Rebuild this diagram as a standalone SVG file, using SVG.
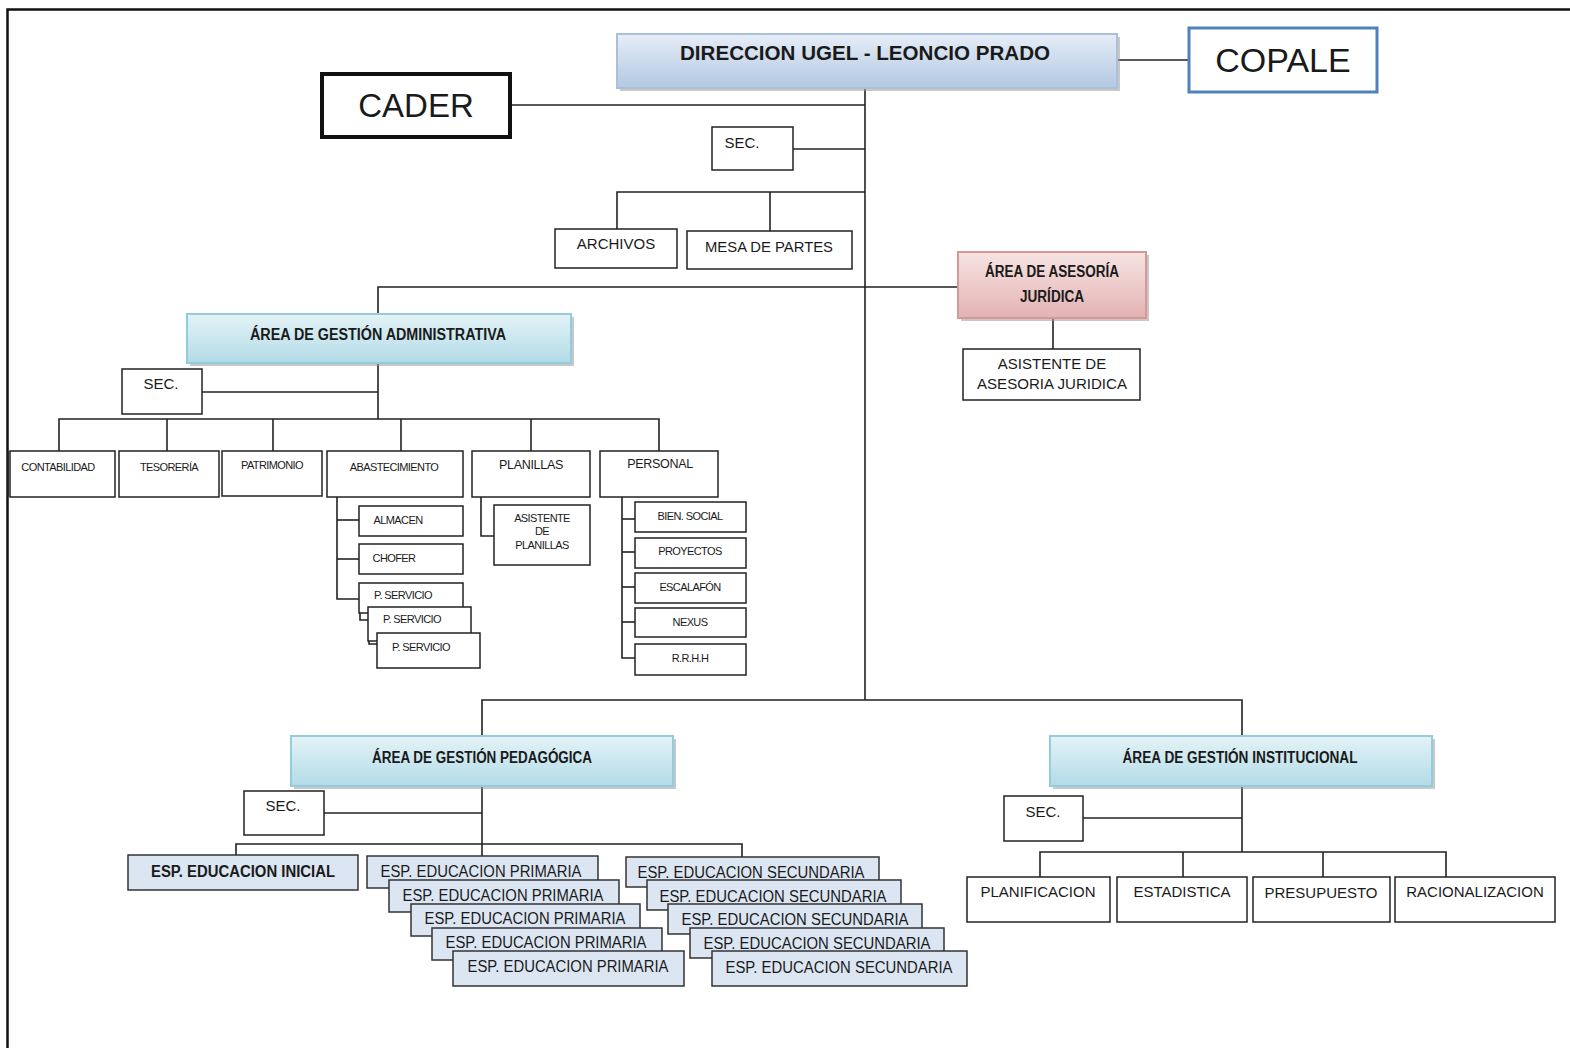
<svg xmlns="http://www.w3.org/2000/svg" width="1570" height="1048" viewBox="0 0 1570 1048">
<defs>
<linearGradient id="gBlue" x1="0" y1="0" x2="0" y2="1"><stop offset="0" stop-color="#e6edf7"/><stop offset="1" stop-color="#b3c8e2"/></linearGradient>
<linearGradient id="gCyan" x1="0" y1="0" x2="0" y2="1"><stop offset="0" stop-color="#e4f3f7"/><stop offset="1" stop-color="#b2dbe7"/></linearGradient>
<linearGradient id="gPink" x1="0" y1="0" x2="0" y2="1"><stop offset="0" stop-color="#f6e4e3"/><stop offset="1" stop-color="#e3b3b2"/></linearGradient>
<style>
.bx{fill:#fff;stroke:#222;stroke-width:1.5}
.esp{fill:#dce6f2;stroke:#333;stroke-width:1.5}
.sh{fill:#9a9a9a;opacity:0.55}
.t{font-family:"Liberation Sans",Arial,sans-serif;fill:#1a1a1a;text-anchor:middle}
.s15{font-size:15px}
.s11{font-size:11px;letter-spacing:-0.6px}
.s12{font-size:12.5px;letter-spacing:-0.3px}
.b{font-weight:bold}
.ln{stroke:#222;stroke-width:1.6;fill:none}
</style>
</defs>
<rect width="1570" height="1048" fill="#fff"/>
<path d="M7.5 1048 V9.5 H1570" fill="none" stroke="#111" stroke-width="2.5"/>

<g id="connectors" class="ln">
<line x1="865" y1="88" x2="865" y2="700"/>
<line x1="1117" y1="60" x2="1189" y2="60"/>
<line x1="510" y1="105" x2="865" y2="105"/>
<line x1="793" y1="149" x2="865" y2="149"/>
<polyline points="617,229 617,192 865,192"/>
<line x1="770" y1="192" x2="770" y2="231"/>
<polyline points="378,314 378,287 958,287"/>
<line x1="1053" y1="318" x2="1053" y2="349"/>
<line x1="378" y1="363" x2="378" y2="419"/>
<line x1="202" y1="392" x2="378" y2="392"/>
<polyline points="59,451 59,419 659,419 659,451"/>
<line x1="167" y1="419" x2="167" y2="451"/>
<line x1="273" y1="419" x2="273" y2="451"/>
<line x1="401" y1="419" x2="401" y2="451"/>
<line x1="531" y1="419" x2="531" y2="451"/>
<polyline points="337,497 337,599 359,599"/>
<line x1="337" y1="520" x2="359" y2="520"/>
<line x1="337" y1="559" x2="359" y2="559"/>
<polyline points="360,609 360,620 368,620"/>
<polyline points="369,641 369,644 377,644"/>
<polyline points="481,497 481,536 494,536"/>
<polyline points="622,497 622,658 635,658"/>
<line x1="622" y1="519" x2="635" y2="519"/>
<line x1="622" y1="552" x2="635" y2="552"/>
<line x1="622" y1="587" x2="635" y2="587"/>
<line x1="622" y1="622" x2="635" y2="622"/>
<polyline points="482,736 482,700 1242,700 1242,736"/>
<line x1="482" y1="786" x2="482" y2="856"/>
<line x1="324" y1="813" x2="482" y2="813"/>
<polyline points="236,855 236,844 742,844 742,857"/>
<line x1="1242" y1="786" x2="1242" y2="852"/>
<line x1="1083" y1="818" x2="1242" y2="818"/>
<polyline points="1040,877 1040,852 1446,852 1446,877"/>
<line x1="1183" y1="852" x2="1183" y2="877"/>
<line x1="1323" y1="852" x2="1323" y2="877"/>
</g>

<g id="n-direccion">
<rect class="sh" x="620" y="37" width="500" height="54"/>
<rect x="617" y="34" width="500" height="54" fill="url(#gBlue)" stroke="#a9bfdc" stroke-width="2"/>
<text class="t b" x="865" y="60" font-size="20" textLength="370" lengthAdjust="spacingAndGlyphs">DIRECCION UGEL - LEONCIO PRADO</text>
</g>
<g id="n-copale">
<rect x="1189" y="28" width="188" height="64" fill="#fff" stroke="#4f81bd" stroke-width="3"/>
<text class="t" x="1283" y="72" font-size="34">COPALE</text>
</g>
<g id="n-cader">
<rect x="322" y="74" width="188" height="63" fill="#fff" stroke="#111" stroke-width="4"/>
<text class="t" x="416" y="117" font-size="33">CADER</text>
</g>
<g id="n-sec0"><rect class="bx" x="712" y="127" width="81" height="43"/><text class="t s15" x="742" y="148">SEC.</text></g>
<g id="n-archivos"><rect class="bx" x="555" y="229" width="122" height="39"/><text class="t s15" x="616" y="249">ARCHIVOS</text></g>
<g id="n-mesa"><rect class="bx" x="687" y="231" width="165" height="38"/><text class="t s15" x="769" y="252" textLength="128" lengthAdjust="spacingAndGlyphs">MESA DE PARTES</text></g>

<g id="n-asesoria">
<rect class="sh" x="961" y="255" width="188" height="66"/>
<rect x="958" y="252" width="188" height="66" fill="url(#gPink)" stroke="#d99694" stroke-width="2"/>
<text class="t b" x="1052" y="277" font-size="16" textLength="134" lengthAdjust="spacingAndGlyphs">ÁREA DE ASESORÍA</text>
<text class="t b" x="1052" y="302" font-size="16" textLength="64" lengthAdjust="spacingAndGlyphs">JURÍDICA</text>
</g>
<g id="n-asist-aj"><rect class="bx" x="963" y="349" width="177" height="51"/>
<text class="t s15" x="1052" y="369">ASISTENTE DE</text><text class="t s15" x="1052" y="389" textLength="150" lengthAdjust="spacingAndGlyphs">ASESORIA JURIDICA</text></g>

<g id="n-aga">
<rect class="sh" x="190" y="317" width="384" height="49"/>
<rect x="187" y="314" width="384" height="49" fill="url(#gCyan)" stroke="#93cddd" stroke-width="2"/>
<text class="t b" x="378" y="340" font-size="16" textLength="256" lengthAdjust="spacingAndGlyphs">ÁREA DE GESTIÓN  ADMINISTRATIVA</text>
</g>
<g id="n-sec-aga"><rect class="bx" x="122" y="369" width="80" height="45"/><text class="t s15" x="161" y="389">SEC.</text></g>
<g id="n-contabilidad"><rect class="bx" x="10" y="451" width="105" height="46"/><line x1="8" y1="451" x2="8" y2="497" stroke="#222" stroke-width="1.5"/><text class="t s11" x="58" y="471">CONTABILIDAD</text></g>
<g id="n-tesoreria"><rect class="bx" x="119" y="451" width="100" height="46"/><text class="t s11" x="169" y="471">TESORERÍA</text></g>
<g id="n-patrimonio"><rect class="bx" x="222" y="451" width="100" height="45"/><text class="t s11" x="272" y="469">PATRIMONIO</text></g>
<g id="n-abastecimiento"><rect class="bx" x="327" y="451" width="136" height="46"/><text class="t s11" x="394" y="471">ABASTECIMIENTO</text></g>
<g id="n-planillas"><rect class="bx" x="472" y="451" width="118" height="46"/><text class="t s12" x="531" y="469">PLANILLAS</text></g>
<g id="n-personal"><rect class="bx" x="600" y="451" width="118" height="46"/><text class="t s12" x="660" y="468">PERSONAL</text></g>
<g id="n-almacen"><rect class="bx" x="359" y="506" width="104" height="30"/><text class="t s11" x="398" y="524">ALMACEN</text></g>
<g id="n-chofer"><rect class="bx" x="359" y="544" width="104" height="30"/><text class="t s11" x="394" y="562">CHOFER</text></g>
<g id="n-ps1"><rect class="bx" x="359" y="583" width="104" height="30"/><text class="t s11" x="403" y="599">P. SERVICIO</text></g>
<g id="n-ps2"><rect class="bx" x="368" y="607" width="103" height="34"/><text class="t s11" x="412" y="623">P. SERVICIO</text></g>
<g id="n-ps3"><rect class="bx" x="377" y="633" width="103" height="35"/><text class="t s11" x="421" y="651">P. SERVICIO</text></g>
<g id="n-asist-plan"><rect class="bx" x="494" y="505" width="96" height="60"/>
<text class="t s11" x="542" y="522">ASISTENTE</text><text class="t s11" x="542" y="535">DE</text><text class="t s11" x="542" y="549">PLANILLAS</text></g>
<g id="n-bien"><rect class="bx" x="635" y="502" width="111" height="30"/><text class="t s11" x="690" y="520">BIEN. SOCIAL</text></g>
<g id="n-proyectos"><rect class="bx" x="635" y="538" width="111" height="30"/><text class="t s11" x="690" y="555">PROYECTOS</text></g>
<g id="n-escalafon"><rect class="bx" x="635" y="573" width="111" height="30"/><text class="t s11" x="690" y="591">ESCALAFÓN</text></g>
<g id="n-nexus"><rect class="bx" x="635" y="608" width="111" height="29"/><text class="t s11" x="690" y="626">NEXUS</text></g>
<g id="n-rrhh"><rect class="bx" x="635" y="644" width="111" height="31"/><text class="t s11" x="690" y="662">R.R.H.H</text></g>

<g id="n-agp">
<rect class="sh" x="294" y="739" width="382" height="50"/>
<rect x="291" y="736" width="382" height="50" fill="url(#gCyan)" stroke="#93cddd" stroke-width="2"/>
<text class="t b" x="482" y="763" font-size="16" textLength="220" lengthAdjust="spacingAndGlyphs">ÁREA DE GESTIÓN PEDAGÓGICA</text>
</g>
<g id="n-sec-agp"><rect class="bx" x="244" y="791" width="80" height="44"/><text class="t s15" x="283" y="811">SEC.</text></g>
<g id="n-inicial"><rect class="esp" x="128" y="855" width="230" height="35"/><text class="t b" x="243" y="877" font-size="16" textLength="184" lengthAdjust="spacingAndGlyphs">ESP. EDUCACION INICIAL</text></g>
<g id="n-prim1"><rect class="esp" x="367" y="856" width="231" height="32"/><text class="t" x="481" y="877" font-size="16" textLength="201" lengthAdjust="spacingAndGlyphs">ESP. EDUCACION PRIMARIA</text></g>
<g id="n-prim2"><rect class="esp" x="389" y="880" width="230" height="32"/><text class="t" x="503" y="901" font-size="16" textLength="201" lengthAdjust="spacingAndGlyphs">ESP. EDUCACION PRIMARIA</text></g>
<g id="n-prim3"><rect class="esp" x="411" y="904" width="229" height="32"/><text class="t" x="525" y="924" font-size="16" textLength="201" lengthAdjust="spacingAndGlyphs">ESP. EDUCACION PRIMARIA</text></g>
<g id="n-prim4"><rect class="esp" x="432" y="928" width="230" height="32"/><text class="t" x="546" y="948" font-size="16" textLength="201" lengthAdjust="spacingAndGlyphs">ESP. EDUCACION PRIMARIA</text></g>
<g id="n-prim5"><rect class="esp" x="453" y="951" width="231" height="35"/><text class="t" x="568" y="972" font-size="16" textLength="201" lengthAdjust="spacingAndGlyphs">ESP. EDUCACION PRIMARIA</text></g>
<g id="n-sec1"><rect class="esp" x="626" y="857" width="253" height="30"/><text class="t" x="751" y="878" font-size="16" textLength="227" lengthAdjust="spacingAndGlyphs">ESP. EDUCACION SECUNDARIA</text></g>
<g id="n-sec2"><rect class="esp" x="647" y="880" width="254" height="30"/><text class="t" x="773" y="902" font-size="16" textLength="227" lengthAdjust="spacingAndGlyphs">ESP. EDUCACION SECUNDARIA</text></g>
<g id="n-sec3"><rect class="esp" x="668" y="904" width="254" height="30"/><text class="t" x="795" y="925" font-size="16" textLength="227" lengthAdjust="spacingAndGlyphs">ESP. EDUCACION SECUNDARIA</text></g>
<g id="n-sec4"><rect class="esp" x="690" y="928" width="254" height="30"/><text class="t" x="817" y="949" font-size="16" textLength="227" lengthAdjust="spacingAndGlyphs">ESP. EDUCACION SECUNDARIA</text></g>
<g id="n-sec5"><rect class="esp" x="712" y="951" width="255" height="35"/><text class="t" x="839" y="973" font-size="16" textLength="227" lengthAdjust="spacingAndGlyphs">ESP. EDUCACION SECUNDARIA</text></g>

<g id="n-agi">
<rect class="sh" x="1053" y="739" width="382" height="50"/>
<rect x="1050" y="736" width="382" height="50" fill="url(#gCyan)" stroke="#93cddd" stroke-width="2"/>
<text class="t b" x="1240" y="763" font-size="16" textLength="235" lengthAdjust="spacingAndGlyphs">ÁREA DE GESTIÓN INSTITUCIONAL</text>
</g>
<g id="n-sec-agi"><rect class="bx" x="1004" y="796" width="79" height="45"/><text class="t s15" x="1043" y="817">SEC.</text></g>
<g id="n-planificacion"><rect class="bx" x="967" y="877" width="143" height="45"/><text class="t s15" x="1038" y="897">PLANIFICACION</text></g>
<g id="n-estadistica"><rect class="bx" x="1117" y="877" width="130" height="45"/><text class="t s15" x="1182" y="897">ESTADISTICA</text></g>
<g id="n-presupuesto"><rect class="bx" x="1253" y="877" width="137" height="45"/><text class="t s15" x="1321" y="898">PRESUPUESTO</text></g>
<g id="n-racionalizacion"><rect class="bx" x="1395" y="877" width="160" height="45"/><text class="t s15" x="1475" y="897">RACIONALIZACION</text></g>
</svg>
